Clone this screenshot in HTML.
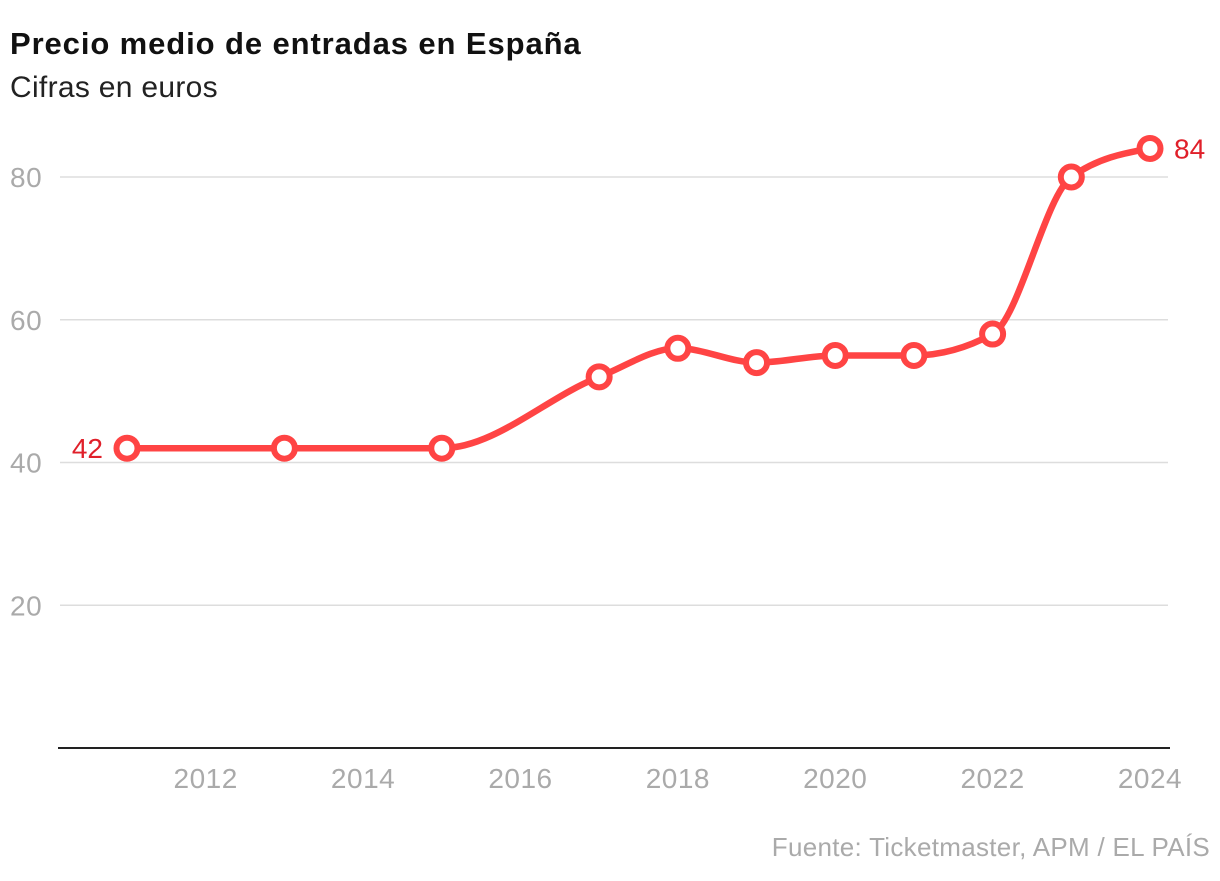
<!DOCTYPE html>
<html><head><meta charset="utf-8"><style>
body{margin:0;background:#fff;width:1220px;height:876px;overflow:hidden;font-family:"Liberation Sans",sans-serif}
</style></head><body>
<svg id="c" width="1220" height="876">
<text x="10" y="54" font-size="31" font-weight="bold" fill="#111" letter-spacing="0.9">Precio medio de entradas en España</text>
<text x="10" y="97" font-size="30" fill="#222" letter-spacing="0.3">Cifras en euros</text>
<text x="1210" y="856" font-size="26" fill="#aaa" text-anchor="end" letter-spacing="0.3">Fuente: Ticketmaster, APM / EL PAÍS</text>
<g id="g"></g>
</svg>
<script>
const years=[2011,2013,2015,2017,2018,2019,2020,2021,2022,2023,2024];
const prices=[42,42,42,52,56,54,55,55,58,80,84];
const yTicks=[20,40,60,80];
const xTicks=[2012,2014,2016,2018,2020,2022,2024];
const NS="http://www.w3.org/2000/svg";
const g=document.getElementById('g');
const x=v=>127+(v-2011)*(1150-127)/13;
const y=v=>748-v*(748-177)/80;
function mk(t,a,txt){const e=document.createElementNS(NS,t);for(const k in a)e.setAttribute(k,a[k]);if(txt!=null)e.textContent=txt;g.appendChild(e);return e;}
yTicks.forEach(t=>{
 let l=mk('line',{x1:60,x2:1168,y1:y(t),y2:y(t),stroke:'#ddd','stroke-width':1.5});
 
 
 let tx=mk('text',{x:10,y:y(t)+10,'font-size':28,fill:'#aaa','letter-spacing':0.5},t);
 
 
});
let b=mk('line',{x1:58,x2:1170,y1:748,y2:748,stroke:'#222','stroke-width':2});


xTicks.forEach(t=>{
 let tx=mk('text',{x:x(t),y:788,'font-size':28,fill:'#aaa','text-anchor':'middle','letter-spacing':0.5},t);
 
 
});
const px=years.map(x),py=prices.map(y),n=px.length;
const d=[],m=[];
for(let i=0;i<n-1;i++)d.push((py[i+1]-py[i])/(px[i+1]-px[i]));
for(let i=0;i<n;i++){
 if(i==0)m.push(d[0]);else if(i==n-1)m.push(d[n-2]);
 else{const a=d[i-1],c=d[i];if(a*c<=0)m.push(0);else{const h0=px[i]-px[i-1],h1=px[i+1]-px[i];const p=(a*h1+c*h0)/(h0+h1);m.push((Math.sign(a)+Math.sign(c))*Math.min(Math.abs(a),Math.abs(c),0.5*Math.abs(p)));}}
}
m[0]=(3*d[0]-m[1])/2;m[n-1]=(3*d[n-2]-m[n-2])/2;
let p='M'+px[0]+','+py[0];
for(let i=0;i<n-1;i++){const h=(px[i+1]-px[i])/3;p+=` C${px[i]+h},${py[i]+m[i]*h} ${px[i+1]-h},${py[i+1]-m[i+1]*h} ${px[i+1]},${py[i+1]}`;}
let ln=mk('path',{d:p,fill:'none',stroke:'#ff4444','stroke-width':6.5});


years.forEach((yr,i)=>{
 let c=mk('circle',{cx:px[i],cy:py[i],r:10.5,fill:'#fff',stroke:'#ff4444','stroke-width':6});
 
 
});
let l1=mk('text',{x:px[0]-24,y:py[0]+10,'font-size':28,fill:'#e0202a','text-anchor':'end'},prices[0]);


let l2=mk('text',{x:px[n-1]+24,y:py[n-1]+10,'font-size':28,fill:'#e0202a'},prices[n-1]);


</script>
</body></html>
